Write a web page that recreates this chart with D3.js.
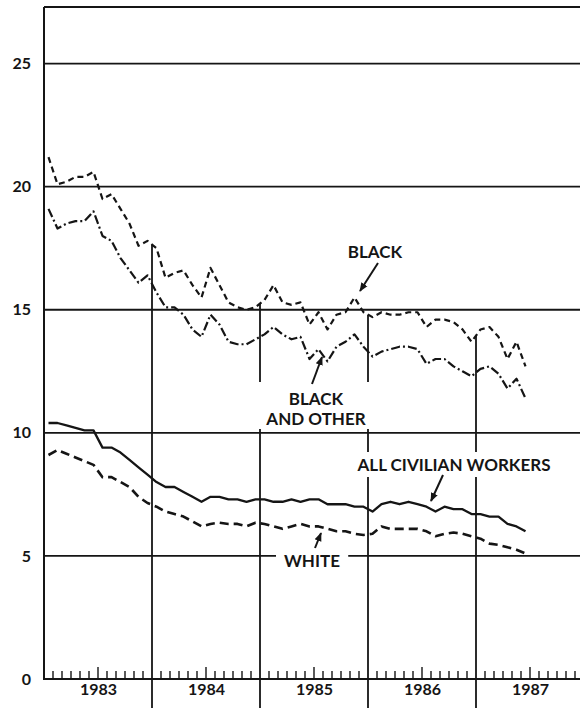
<!DOCTYPE html>
<html><head><meta charset="utf-8">
<script src="https://cdn.jsdelivr.net/npm/d3@7"></script>
<style>html,body{margin:0;padding:0;background:#fff;}svg{display:block;}</style>
</head><body>
<svg id="chart" width="580" height="708"></svg>
<script>
// ---- data (monthly, Jan 1983 - Jun 1987), percent ----
const years = ["1983","1984","1985","1986","1987"];
const yTicks = [0,5,10,15,20,25];
const black = [21.2,20.1,20.2,20.4,20.4,20.6,19.5,19.7,19.1,18.5,17.6,17.8,
  17.5,16.3,16.5,16.6,16.0,15.5,16.7,16.0,15.3,15.1,15.0,15.1,
  15.4,16.0,15.3,15.2,15.3,14.4,14.9,14.2,14.8,14.9,15.5,14.9,
  14.7,14.9,14.8,14.8,14.9,14.9,14.3,14.6,14.6,14.5,14.2,13.7,
  14.2,14.3,13.9,13.0,13.7,12.7];
const blackOther = [19.1,18.3,18.5,18.6,18.6,19.0,18.0,17.8,17.1,16.6,16.1,16.4,
  15.7,15.1,15.1,14.8,14.2,13.9,14.8,14.4,13.7,13.6,13.6,13.8,
  14.0,14.3,14.0,13.8,13.9,13.0,13.4,12.9,13.5,13.7,14.0,13.5,
  13.1,13.3,13.4,13.5,13.5,13.4,12.8,13.0,13.0,12.7,12.5,12.3,
  12.6,12.7,12.4,11.8,12.2,11.4];
const civilian = [10.4,10.4,10.3,10.2,10.1,10.1,9.4,9.4,9.2,8.9,8.6,8.3,
  8.0,7.8,7.8,7.6,7.4,7.2,7.4,7.4,7.3,7.3,7.2,7.3,
  7.3,7.2,7.2,7.3,7.2,7.3,7.3,7.1,7.1,7.1,7.0,7.0,
  6.8,7.1,7.2,7.1,7.2,7.1,7.0,6.8,7.0,6.9,6.9,6.7,
  6.7,6.6,6.6,6.3,6.2,6.0];
const white = [9.1,9.3,9.15,9.0,8.85,8.7,8.2,8.2,8.0,7.8,7.4,7.15,
  7.0,6.8,6.7,6.6,6.4,6.2,6.3,6.35,6.3,6.3,6.2,6.35,
  6.3,6.2,6.1,6.2,6.3,6.2,6.2,6.1,6.0,6.0,5.9,5.85,
  5.9,6.2,6.1,6.1,6.1,6.1,6.0,5.8,5.9,5.95,5.9,5.8,
  5.7,5.5,5.45,5.35,5.25,5.1];

const svg = d3.select("#chart");
const FONT = "Lato, 'Open Sans', sans-serif";
const ink = "#151515";

const x = d3.scaleLinear().domain([0, 60]).range([44, 584]);
const y = d3.scaleLinear().domain([0, 27.3]).range([679, 7]);

// horizontal grid lines + top border
const g = svg.append("g");
yTicks.filter(d => d > 0).concat([27.3]).forEach(v => {
  g.append("line").attr("x1", x(0)).attr("x2", 580).attr("y1", y(v)).attr("y2", y(v))
    .attr("stroke", ink).attr("stroke-width", 1.8);
});
// left axis line
g.append("line").attr("x1", x(0)).attr("x2", x(0)).attr("y1", y(27.3)).attr("y2", y(0) + 1)
  .attr("stroke", ink).attr("stroke-width", 2);
// baseline
g.append("line").attr("x1", x(0)).attr("x2", 580).attr("y1", y(0)).attr("y2", y(0))
  .attr("stroke", ink).attr("stroke-width", 2);

// vertical year-boundary lines, from the black series down through the labels
[12, 24, 36, 48].forEach(m => {
  const top = (black[m - 1] + black[m]) / 2;
  g.append("line").attr("x1", x(m)).attr("x2", x(m)).attr("y1", y(top)).attr("y2", 708)
    .attr("stroke", ink).attr("stroke-width", 1.8);
});

// month ticks
for (let yr = 0; yr < 5; yr++) {
  for (let m = 1; m < 12; m++) {
    const xm = x(yr * 12 + m);
    g.append("line").attr("x1", xm).attr("x2", xm).attr("y1", y(0))
      .attr("y2", y(0) - (m === 6 ? 12 : 8)).attr("stroke", ink).attr("stroke-width", 1.4);
  }
}

// y axis labels
const yAxis = d3.axisLeft(y).tickValues(yTicks).tickSize(0).tickPadding(0).tickFormat(d3.format("d"));
const ya = svg.append("g").attr("transform", "translate(31,0)").call(yAxis);
ya.select(".domain").remove();
ya.selectAll("text").attr("font-family", FONT).attr("font-weight", 700).attr("font-size", 16).attr("fill", ink);

// x axis year labels
const xAxis = d3.axisBottom(x).tickValues(years.map((d, i) => i * 12 + 6)).tickSize(0).tickPadding(0)
  .tickFormat((d, i) => years[i]);
const xa = svg.append("g").attr("transform", "translate(0,684)").call(xAxis);
xa.select(".domain").remove();
xa.selectAll("text").attr("font-family", FONT).attr("font-weight", 700).attr("font-size", 16).attr("fill", ink);

// labels with white knockouts
const labelG = svg.append("g");
function label(lines, cx, baseline, lh, padL, padR, padT, padB) {
  const t = labelG.append("text").attr("font-family", FONT).attr("font-weight", 700)
    .attr("font-size", 17).attr("fill", ink).attr("text-anchor", "middle");
  lines.forEach((s, i) => t.append("tspan").attr("x", cx).attr("y", baseline + i * lh).text(s));
  const b = t.node().getBBox();
  labelG.insert("rect", "text").attr("x", b.x - padL).attr("y", b.y - padT)
    .attr("width", b.width + padL + padR).attr("height", b.height + padT + padB).attr("fill", "#fff");
}
label(["BLACK"], 375, 258, 0, 3, 3, 2, 2);
label(["BLACK", "AND OTHER"], 316, 405, 20, 12, 8, 6, 0);
label(["ALL CIVILIAN WORKERS"], 454, 471, 0, 3, 3, 2, 2);
label(["WHITE"], 312, 567, 0, 8, 8, 2, 2);

// data lines
const line = d3.line().x((d, i) => x(i + 0.5)).y(d => y(d));
const series = [
  { data: black, dash: "6,4", w: 2.2 },
  { data: blackOther, dash: "9,3,2,3", w: 2.2 },
  { data: civilian, dash: null, w: 2.3 },
  { data: white, dash: "9,5", w: 2.6 }
];
series.forEach(s => {
  svg.append("path").datum(s.data).attr("d", line).attr("fill", "none")
    .attr("stroke", ink).attr("stroke-width", s.w).attr("stroke-dasharray", s.dash)
    .attr("stroke-linejoin", "round");
});

// arrows
svg.append("defs").append("marker").attr("id", "ah").attr("viewBox", "0 0 10 10")
  .attr("refX", 9).attr("refY", 5).attr("markerWidth", 9).attr("markerHeight", 9)
  .attr("markerUnits", "userSpaceOnUse").attr("orient", "auto")
  .append("path").attr("d", "M0,1 L10,5 L0,9 Z").attr("fill", ink);
const arrows = [
  [378, 263, 360, 291],
  [312, 384, 322, 357],
  [443, 475, 431, 501],
  [315, 548, 321, 533]
];
arrows.forEach(a => {
  svg.append("line").attr("x1", a[0]).attr("y1", a[1]).attr("x2", a[2]).attr("y2", a[3])
    .attr("stroke", ink).attr("stroke-width", 2).attr("marker-end", "url(#ah)");
});
</script>
</body></html>
